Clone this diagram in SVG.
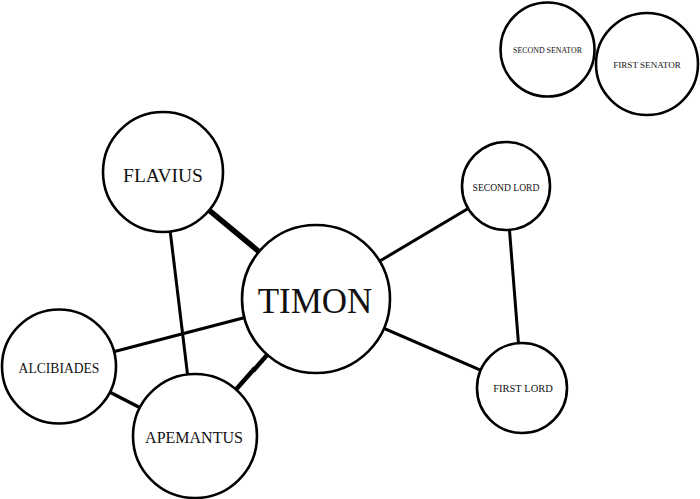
<svg xmlns="http://www.w3.org/2000/svg" width="700" height="499" viewBox="0 0 700 499">
<style>
.n circle{fill:#fff;stroke:#000;stroke-width:2.6}
.n text{font-family:"Liberation Serif","Times New Roman",serif;fill:#111;text-anchor:middle}
.e line{stroke:#000;stroke-width:3;stroke-linecap:butt}
</style>
<rect width="700" height="499" fill="#fff"/>
<g id="connectors" class="e">
<line x1="163" y1="172" x2="316" y2="299" style="stroke-width:5.5"/>
<line x1="163" y1="172" x2="195" y2="436"/>
<line x1="59" y1="366" x2="316" y2="299"/>
<line x1="59" y1="366" x2="195" y2="436" style="stroke-width:3.5"/>
<line x1="195" y1="436" x2="255" y2="368" style="stroke-width:4.5"/>
<line x1="253" y1="371" x2="316" y2="299" style="stroke-width:4.5"/>
<line x1="316" y1="299" x2="506" y2="186"/>
<line x1="316" y1="299" x2="522" y2="388"/>
<line x1="506" y1="186" x2="522" y2="388"/>
</g>
<g id="second-senator" class="n"><circle cx="547.5" cy="49.5" r="47"/><text x="547.5" y="53" font-size="7.9">SECOND SENATOR</text></g>
<g id="first-senator" class="n"><circle cx="647" cy="64" r="51"/><text x="647" y="67.5" font-size="9.1">FIRST SENATOR</text></g>
<g id="flavius" class="n"><circle cx="163" cy="172" r="60"/><text x="163" y="182" font-size="19.5">FLAVIUS</text></g>
<g id="second-lord" class="n"><circle cx="506" cy="186" r="44"/><text x="506" y="191" font-size="9.6">SECOND LORD</text></g>
<g id="timon" class="n"><circle cx="316" cy="299" r="74"/><text x="315" y="313" font-size="35">TIMON</text></g>
<g id="alcibiades" class="n"><circle cx="59" cy="366.5" r="57"/><text x="59" y="373" font-size="13.6">ALCIBIADES</text></g>
<g id="first-lord" class="n"><circle cx="522" cy="388" r="45"/><text x="523" y="392" font-size="10.5">FIRST LORD</text></g>
<g id="apemantus" class="n"><circle cx="195" cy="436" r="62"/><text x="194" y="443" font-size="16">APEMANTUS</text></g>
</svg>
